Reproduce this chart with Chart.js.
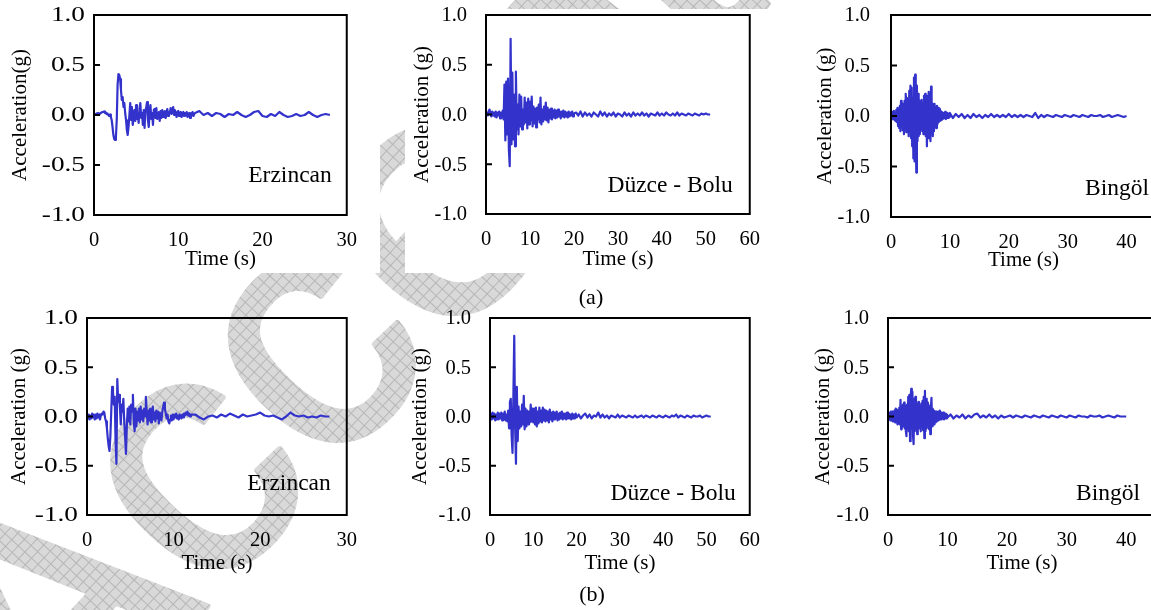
<!DOCTYPE html>
<html>
<head>
<meta charset="utf-8">
<script src="https://cdn.jsdelivr.net/npm/chart.js@4.4.1/dist/chart.umd.min.js"></script>
<style>
  html, body { margin: 0; padding: 0; background: #fff; }
  body { width: 1151px; height: 610px; position: relative; overflow: hidden; }
  canvas { position: absolute; }
  .cap { position: absolute; font: 22px "Liberation Serif", serif; color: #000; transform: translate(-50%, -50%); }
</style>
</head>
<body>
<canvas id="mark" width="1151" height="610" style="left:0;top:0"></canvas>
<canvas id="erzA"></canvas>
<canvas id="duzA"></canvas>
<canvas id="binA"></canvas>
<canvas id="erzB"></canvas>
<canvas id="duzB"></canvas>
<canvas id="binB"></canvas>
<div class="cap" style="left:591px;top:297px">(a)</div>
<div class="cap" style="left:592px;top:594px">(b)</div>
<script>
// ---- acceleration records (g) ----
// each record: dense part sampled every 0.1 s / 0.2 s, then a coarse tail every 0.5 s

// Erzincan, set (a): 0-12 s @ 0.1 s, 12.5-28 s @ 0.5 s
const erzincanA_head = [
  0, 0.01, 0.005, 0.015, 0.01, 0.02, 0.01, 0.015, 0.02, 0.025,
  0.03, 0.03, 0.035, 0.02, 0.025, 0.01, 0.015, 0.0, -0.01, 0.005,
  -0.02, -0.05, -0.12, -0.2, -0.24, -0.25, -0.22, -0.05, 0.3, 0.41,
  0.4, 0.36, 0.25, 0.15, 0.18, 0.08, 0.12, 0.02, -0.05, -0.15,
  -0.2, -0.12, 0.0, 0.12, -0.05, 0.08, -0.1, -0.02, 0.05, -0.06,
  0.1, -0.04, 0.02, -0.08, 0.06, 0.12, -0.03, 0.02, -0.1, 0.05,
  -0.13, 0.04, 0.08, 0.13, -0.05, -0.12, 0.03, 0.1, -0.04, 0.02,
  -0.1, 0.05, 0.06, -0.03, 0.07, -0.04, 0.02, 0.03, -0.06, 0.04,
  -0.03, 0.05, -0.02, 0.01, 0.04, -0.03, 0.02, 0.06, -0.01, 0.03,
  0.02, 0.07, 0.01, 0.04, 0.08, 0.0, 0.05, 0.02, -0.02, 0.03,
  0.04, -0.01, 0.02, 0.03, -0.02, 0.01, 0.03, -0.01, 0.02, 0.0,
  0.03, -0.02, 0.01, 0.02, -0.03, 0.02, 0.0, 0.03, -0.01, 0.01,
  0.02
];
const erzincanA_tail = [
  0.04, 0.0, 0.02, -0.01, 0.02, 0.01, -0.02, 0.01, 0.0, 0.03,
  0.0, -0.02, 0.0, 0.03, 0.04, -0.01, -0.02, 0.01, -0.01, 0.03,
  0.0, -0.02, -0.01, 0.01, -0.01, 0.0, 0.03, 0.0, -0.02, 0.0,
  0.01, 0.0
];

// Düzce - Bolu, set (a): 0-20 s @ 0.2 s, 20.5-51 s @ 0.5 s
const duzceA_head = [
  0, 0.02, -0.01, 0.03, 0.05, 0.01, -0.02, 0.03, -0.01, 0.02,
  -0.02, 0.03, -0.03, 0.02, -0.01, 0.03, -0.04, 0.02, -0.03, 0.04,
  -0.05, 0.3, -0.26, 0.33, -0.2, 0.36, -0.35, -0.52, 0.76, -0.3,
  0.42, -0.25, 0.2, -0.32, 0.43, -0.15, 0.1, -0.2, 0.2, -0.12,
  0.18, -0.15, 0.05, -0.1, 0.17, -0.08, 0.12, -0.14, 0.16, -0.1,
  0.13, -0.06, 0.18, -0.12, 0.08, -0.09, 0.06, -0.13, 0.07, -0.05,
  0.1, -0.08, 0.17, -0.1, 0.05, -0.07, 0.08, -0.05, 0.12, -0.06,
  0.07, -0.08, 0.05, -0.04, 0.06, -0.05, 0.04, -0.03, 0.05, -0.04,
  0.04, -0.03, 0.05, -0.02, 0.03, -0.04, 0.03, -0.02, 0.04, -0.03,
  0.03, -0.02, 0.02, -0.03, 0.03, -0.02, 0.02, -0.01, 0.03, -0.02,
  0.01
];
const duzceA_tail = [
  0.02, -0.01, 0.03, -0.02, 0.02, -0.01, 0.01, -0.02, 0.02, 0.0,
  -0.02, 0.03, -0.01, 0.02, -0.02, 0.01, -0.01, 0.02, -0.02, 0.01,
  0.0, -0.02, 0.02, -0.01, 0.01, -0.02, 0.02, -0.01, 0.01, -0.01,
  0.02, -0.01, 0.01, -0.02, 0.01, 0.0, -0.01, 0.02, -0.01, 0.01,
  -0.01, 0.02, 0.0, -0.01, 0.01, -0.01, 0.02, -0.01, 0.01, 0.0,
  -0.01, 0.01, 0.0, -0.01, 0.01, 0.0, -0.01, 0.01, 0.0, 0.01,
  0.0, 0.0
];

// Bingöl, set (a): 0-10 s @ 0.1 s, 10.5-40 s @ 0.5 s
const bingolA_head = [
  0, 0.02, -0.03, 0.04, -0.02, 0.05, -0.04, 0.03, -0.05, 0.06,
  -0.06, 0.08, -0.1, 0.07, -0.12, 0.1, -0.15, 0.15, -0.1, 0.12,
  -0.14, 0.1, -0.18, 0.15, -0.12, 0.22, -0.16, 0.18, -0.1, 0.15,
  -0.2, 0.25, -0.15, 0.3, -0.22, 0.28, -0.3, 0.18, -0.42, 0.38,
  -0.45, 0.41, -0.3, -0.56, 0.3, -0.25, 0.22, -0.2, 0.15, -0.18,
  0.14, -0.12, 0.16, -0.15, 0.12, -0.18, 0.2, -0.15, 0.22, -0.2,
  0.18, -0.3, 0.2, -0.22, 0.24, -0.18, 0.22, -0.25, 0.29, -0.15,
  0.12, -0.2, 0.1, -0.15, 0.12, -0.1, 0.08, -0.12, 0.1, -0.08,
  0.08, -0.06, 0.07, -0.05, 0.05, -0.04, 0.04, -0.03, 0.03, -0.02,
  0.03, -0.02, 0.04, -0.03, 0.02, -0.02, 0.03, -0.02, 0.02, -0.01,
  0.03
];
const bingolA_tail = [
  -0.02, 0.02, -0.01, 0.02, -0.02, 0.01, -0.02, 0.02, -0.01, 0.01,
  -0.02, 0.01, -0.01, 0.02, -0.01, 0.01, -0.01, 0.01, -0.01, 0.02,
  -0.01, 0.01, -0.01, 0.01, -0.01, 0.01, 0.0, -0.01, 0.03, -0.02,
  0.01, -0.01, 0.01, 0.0, -0.01, 0.01, 0.0, -0.01, 0.01, 0.0,
  -0.01, 0.01, 0.0, -0.01, 0.01, 0.0, -0.01, 0.01, 0.0, 0.0,
  0.01, -0.01, 0.0, 0.01, -0.01, 0.0, 0.01, 0.0, -0.01, 0.0
];

// Erzincan, set (b)
const erzincanB_head = [
  0, -0.02, 0.02, -0.03, 0.01, -0.02, 0.03, -0.01, 0.02, -0.03,
  0.02, -0.02, 0.03, -0.01, 0.02, -0.03, 0.01, 0.03, 0.02, 0.05,
  0.04, -0.02, -0.05, -0.12, -0.22, -0.3, -0.35, -0.2, 0.05, 0.3,
  0.25, 0.12, 0.2, -0.25, -0.48, 0.38, 0.15, 0.22, 0.1, -0.08,
  0.12, 0.05, 0.18, -0.05, -0.2, -0.38, -0.1, 0.08, -0.05, 0.1,
  -0.08, 0.12, 0.05, 0.22, -0.05, -0.15, 0.08, -0.1, 0.05, -0.04,
  0.08, -0.06, 0.1, -0.03, 0.06, -0.05, 0.08, 0.0, 0.2, 0.05,
  -0.08, 0.06, -0.04, 0.08, -0.06, 0.05, 0.1, -0.03, 0.04, -0.05,
  0.06, -0.02, 0.05, -0.07, 0.04, 0.02, -0.04, 0.05, 0.1, 0.14,
  0.08, 0.03, -0.02, 0.02, -0.05, -0.07, -0.03, 0.01, -0.04, 0.02,
  -0.03, 0.02, -0.01, 0.03, -0.02, 0.01, -0.03, 0.02, 0.0, -0.02,
  0.02, -0.01, 0.03, 0.01, 0.04, 0.02, 0.05, 0.01, 0.03, 0.0,
  0.02
];
const erzincanB_tail = [
  0.02, -0.01, -0.03, 0.0, 0.01, -0.01, 0.02, 0.0, 0.03, 0.01,
  -0.01, 0.02, 0.0, 0.01, 0.02, 0.04, 0.01, 0.0, 0.01, -0.01,
  -0.03, 0.0, 0.04, 0.01, 0.0, 0.01, -0.01, 0.0, -0.01, 0.01,
  0.0, 0.0
];

// Düzce - Bolu, set (b)
const duzceB_head = [
  0, 0.03, -0.03, 0.04, -0.02, 0.03, -0.04, 0.02, -0.03, 0.04,
  -0.03, 0.03, -0.02, 0.04, -0.04, 0.03, -0.03, 0.05, -0.04, 0.02,
  -0.05, 0.06, -0.12, 0.15, 0.18, -0.2, -0.37, 0.2, 0.82, -0.1,
  -0.48, 0.3, -0.25, 0.1, -0.12, 0.05, -0.1, 0.12, -0.08, 0.21,
  -0.13, 0.08, -0.1, 0.06, -0.08, 0.05, -0.06, 0.12, -0.05, 0.08,
  -0.06, 0.08, -0.08, 0.09, -0.1, 0.05, -0.07, 0.09, -0.05, 0.06,
  -0.06, 0.09, -0.04, 0.07, -0.05, 0.06, -0.04, 0.05, -0.06, 0.07,
  -0.03, 0.04, -0.05, 0.05, -0.03, 0.04, -0.02, 0.05, -0.04, 0.03,
  -0.03, 0.04, -0.02, 0.05, -0.03, 0.03, -0.02, 0.03, -0.03, 0.04,
  -0.02, 0.03, -0.02, 0.02, -0.03, 0.03, -0.02, 0.02, -0.02, 0.03,
  -0.01
];
const duzceB_tail = [
  0.02, -0.02, 0.01, 0.03, -0.01, 0.02, -0.02, 0.01, 0.0, 0.04,
  -0.01, 0.02, -0.01, 0.01, -0.02, 0.01, 0.0, -0.01, 0.02, -0.01,
  0.01, 0.0, -0.01, 0.01, 0.0, -0.01, 0.01, -0.01, 0.0, 0.01,
  -0.01, 0.01, 0.0, -0.01, 0.01, 0.0, -0.01, 0.01, 0.0, -0.01,
  0.01, 0.0, -0.01, 0.01, 0.0, 0.02, -0.01, 0.01, 0.0, -0.01,
  0.01, 0.0, -0.01, 0.01, 0.0, 0.0, 0.01, -0.01, 0.0, 0.01,
  0.0, 0.0
];

// Bingöl, set (b)
const bingolB_head = [
  0, 0.03, -0.03, 0.04, -0.04, 0.05, -0.03, 0.05, -0.05, 0.04,
  -0.05, 0.06, -0.06, 0.08, -0.05, 0.07, -0.08, 0.06, -0.07, 0.09,
  -0.08, 0.17, -0.13, 0.1, -0.09, 0.12, -0.1, 0.14, -0.12, 0.1,
  -0.15, -0.2, 0.12, -0.1, 0.2, -0.15, 0.22, -0.25, 0.18, 0.28,
  -0.12, 0.25, -0.2, -0.28, 0.18, -0.15, 0.2, -0.12, 0.15, -0.18,
  0.12, -0.1, 0.15, -0.12, 0.1, -0.15, 0.13, -0.1, 0.16, -0.14,
  0.2, -0.22, 0.26, -0.15, 0.18, -0.12, 0.14, -0.1, 0.12, -0.13,
  0.1, -0.18, 0.08, 0.19, -0.1, 0.08, -0.07, 0.06, -0.08, 0.05,
  -0.06, 0.05, -0.05, 0.04, -0.04, 0.05, -0.03, 0.06, -0.03, 0.04,
  -0.03, 0.03, -0.02, 0.04, -0.03, 0.02, -0.02, 0.03, -0.02, 0.02,
  -0.01
];
const bingolB_tail = [
  0.02, -0.02, 0.01, -0.01, 0.02, -0.02, 0.01, -0.01, 0.02, 0.03,
  -0.01, 0.01, -0.01, 0.02, -0.01, 0.01, -0.02, 0.01, -0.01, 0.0,
  0.01, -0.01, 0.01, 0.0, -0.01, 0.01, 0.0, -0.01, 0.01, 0.0,
  -0.01, 0.01, 0.0, -0.01, 0.01, 0.0, -0.01, 0.01, 0.0, -0.01,
  0.01, 0.0, -0.01, 0.01, 0.0, 0.0, -0.01, 0.01, 0.0, 0.0,
  0.01, -0.01, 0.0, 0.01, 0.0, -0.01, 0.01, 0.0, 0.0, 0.0
];

const yTicks = [-1.0, -0.5, 0.0, 0.5, 1.0];
const timeTicks30 = [0, 10, 20, 30];
const timeTicks60 = [0, 10, 20, 30, 40, 50, 60];
const timeTicks40 = [0, 10, 20, 30, 40];

// ---- helpers ----
const FONT = '"Liberation Serif", "Times New Roman", serif';
const LINE = '#3333cc';

function record(head, headDt, tail, tailDt) {
  const pts = head.map((a, i) => ({ x: +(i * headDt).toFixed(2), y: a }));
  const t0 = (head.length - 1) * headDt;
  tail.forEach((a, i) => pts.push({ x: +(t0 + (i + 1) * tailDt).toFixed(2), y: a }));
  return pts;
}

// right-anchored text, optionally widened horizontally
function wideText(ctx, str, x, y, sx) {
  ctx.save();
  ctx.translate(x, y);
  ctx.scale(sx, 1);
  ctx.fillText(str, 0, 0);
  ctx.restore();
}

// plot frame, short inward ticks, acceleration tick labels and station name
const framePlugin = {
  id: 'frame',
  afterDraw(chart, args, opts) {
    const { ctx, chartArea: a, scales: { y } } = chart;
    ctx.save();
    ctx.strokeStyle = '#000';
    ctx.lineWidth = 2;
    ctx.strokeRect(a.left, a.top, a.right - a.left, a.bottom - a.top);
    ctx.fillStyle = '#000';
    ctx.font = '20.5px ' + FONT;
    ctx.textAlign = 'right';
    ctx.textBaseline = 'middle';
    y.ticks.forEach(t => {
      const py = y.getPixelForValue(t.value);
      ctx.beginPath();
      ctx.moveTo(a.left, py);
      ctx.lineTo(a.left + 6, py);
      ctx.stroke();
      wideText(ctx, t.value.toFixed(1), a.left - opts.gap, py + 1, opts.sx);
    });
    ctx.font = '23.5px ' + FONT;
    ctx.textBaseline = 'alphabetic';
    ctx.fillText(opts.name, a.right - opts.dx, a.bottom - opts.dy);
    ctx.restore();
  }
};

function panel(id, p) {
  // box = plot area in page pixels
  const left = p.box.l - 94, top = p.box.t - 15;
  const w = Math.round(p.box.r - p.box.l + 94 + 20);
  const h = Math.round(p.box.b - p.box.t + 15 + 60);
  const cv = document.getElementById(id);
  cv.width = w; cv.height = h;
  cv.style.left = left + 'px'; cv.style.top = top + 'px';
  cv.style.width = w + 'px'; cv.style.height = h + 'px';

  new Chart(cv, {
    type: 'line',
    data: {
      datasets: [{
        data: p.data,
        borderColor: LINE,
        borderWidth: 2.2,
        borderJoinStyle: 'round',
        pointRadius: 0,
        tension: 0,
        fill: false
      }]
    },
    options: {
      responsive: false,
      animation: false,
      devicePixelRatio: 1,
      events: [],
      layout: { padding: { top: 15, right: 20, left: 0, bottom: 0 } },
      plugins: {
        legend: { display: false },
        tooltip: { enabled: false },
        frame: { name: p.name, dx: p.nameDx, dy: p.nameDy, gap: p.labelGap, sx: p.labelSx }
      },
      scales: {
        x: {
          type: 'linear',
          min: 0,
          max: p.xMax,
          afterFit: s => { s.height = 60; },
          afterBuildTicks: s => { s.ticks = p.xTicks.map(v => ({ value: v })); },
          grid: { display: false, drawTicks: false },
          border: { display: false },
          ticks: {
            autoSkip: false,
            maxRotation: 0,
            padding: 13,
            color: '#000',
            font: { family: FONT, size: 20.5 }
          },
          title: {
            display: true,
            text: 'Time (s)',
            color: '#000',
            font: { family: FONT, size: 21 },
            padding: { top: 0, bottom: 60 - p.titleDy - 12.6 }
          }
        },
        y: {
          min: -1,
          max: 1,
          afterFit: s => { s.width = 94; },
          afterBuildTicks: s => { s.ticks = yTicks.map(v => ({ value: v })); },
          grid: { display: false, drawTicks: false },
          border: { display: false },
          ticks: { display: false },
          title: {
            display: true,
            text: p.yTitle,
            color: '#000',
            font: { family: FONT, size: 21 },
            padding: { top: p.yTitleX - (p.box.l - 94) - 12.6, bottom: 0 }
          }
        }
      }
    },
    plugins: [framePlugin]
  });
}

// ---- background stamp, partly hidden behind the white (a) panels ----
(function drawMark() {
  const cv = document.getElementById('mark');
  const ctx = cv.getContext('2d');
  const tile = document.createElement('canvas');
  tile.width = 9; tile.height = 9;
  const t = tile.getContext('2d');
  t.fillStyle = '#d9d9d9';
  t.fillRect(0, 0, 9, 9);
  t.fillStyle = '#b6b6b6';
  t.fillRect(0, 0, 9, 1);
  t.fillRect(0, 0, 1, 9);
  const pat = ctx.createPattern(tile, 'repeat');
  ctx.save();
  ctx.translate(51, 774);
  ctx.rotate(-47 * Math.PI / 180);
  ctx.font = '345px "Liberation Sans", Arial, sans-serif';
  ctx.fillStyle = pat;
  ctx.strokeStyle = pat;
  ctx.lineWidth = 6;
  ctx.lineJoin = 'round';
  ctx.fillText('Accepted', 0, 0);
  ctx.strokeText('Accepted', 0, 0);
  ctx.restore();
  ctx.fillStyle = '#fff';
  ctx.fillRect(0, 0, 380, 273);
  ctx.fillRect(405, 9, 746, 264);
})();

panel('erzA', {
  box: { l: 94, t: 15, r: 350, b: 215 }, xMax: 30, xTicks: timeTicks30,
  data: record(erzincanA_head, 0.1, erzincanA_tail, 0.5),
  yTitle: 'Acceleration(g)', yTitleX: 20, titleDy: 44,
  labelGap: 9, labelSx: 1.33,
  name: 'Erzincan', nameDx: 15, nameDy: 33
});
panel('duzA', {
  box: { l: 486, t: 15, r: 752.7, b: 214 }, xMax: 60, xTicks: timeTicks60,
  data: record(duzceA_head, 0.2, duzceA_tail, 0.5),
  yTitle: 'Acceleration (g)', yTitleX: 422, titleDy: 45,
  labelGap: 19, labelSx: 1.0,
  name: 'Düzce - Bolu', nameDx: 17, nameDy: 22
});
panel('binA', {
  box: { l: 891, t: 15, r: 1155.6, b: 217 }, xMax: 45, xTicks: timeTicks40,
  data: record(bingolA_head, 0.1, bingolA_tail, 0.5),
  yTitle: 'Acceleration (g)', yTitleX: 825, titleDy: 43,
  labelGap: 21, labelSx: 1.0,
  name: 'Bingöl', nameDx: 7, nameDy: 22
});
panel('erzB', {
  box: { l: 87.3, t: 318.3, r: 350, b: 515 }, xMax: 30, xTicks: timeTicks30,
  data: record(erzincanB_head, 0.1, erzincanB_tail, 0.5),
  yTitle: 'Acceleration (g)', yTitleX: 20, titleDy: 48,
  labelGap: 9, labelSx: 1.33,
  name: 'Erzincan', nameDx: 16, nameDy: 25
});
panel('duzB', {
  box: { l: 490, t: 318, r: 752.7, b: 515 }, xMax: 60, xTicks: timeTicks60,
  data: record(duzceB_head, 0.2, duzceB_tail, 0.5),
  yTitle: 'Acceleration (g)', yTitleX: 420, titleDy: 48,
  labelGap: 19, labelSx: 1.0,
  name: 'Düzce - Bolu', nameDx: 14, nameDy: 15
});
panel('binB', {
  box: { l: 888, t: 318, r: 1155.8, b: 515 }, xMax: 45, xTicks: timeTicks40,
  data: record(bingolB_head, 0.1, bingolB_tail, 0.5),
  yTitle: 'Acceleration (g)', yTitleX: 823, titleDy: 48,
  labelGap: 19, labelSx: 1.0,
  name: 'Bingöl', nameDx: 16, nameDy: 15
});
</script>
</body>
</html>
